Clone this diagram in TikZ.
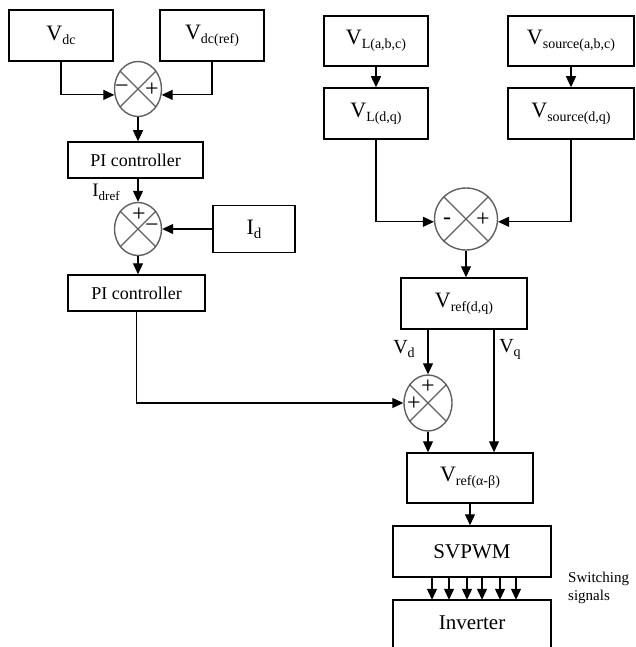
\documentclass[tikz,border=0pt]{standalone}
\usepackage{fontspec}
\setmainfont{Liberation Serif}
\usetikzlibrary{arrows.meta,shapes.geometric}
\newcommand\lsub[2][14]{\raisebox{-4pt}{\fontsize{#1}{#1}\selectfont #2}}
\newcommand\bigV{\fontsize{22}{22}\selectfont V}
\begin{document}
\begin{tikzpicture}[x=1pt,y=-1pt,
  box/.style={draw,line width=1.5pt,inner sep=2pt},
  boxline/.style={line width=1.5pt},
  sumj/.style={ellipse,draw=gray!75!black,line width=1.4pt,inner sep=0pt},
  sumx/.style={draw=gray!75!black,line width=1.1pt},
  sign/.style={inner sep=0pt,font=\fontsize{24}{24}\selectfont},
  conn/.style={line width=1.2pt,-{Triangle[length=11pt,width=10pt]}},
  lbl/.style={inner sep=0pt}]
\useasboundingbox (0,0) rectangle (635,647);

% left column
\node[box,minimum width=104pt,minimum height=51pt] (vdc) at (61,35.5) {\bigV\lsub{dc}};
\node[box,minimum width=104pt,minimum height=51pt] (vdcref) at (212,35.5) {\bigV\lsub{dc(ref)}};
\node[sumj,minimum width=47pt,minimum height=55pt] (s1) at (138,89) {};
\node[box,minimum width=135pt,minimum height=36pt,font=\fontsize{18}{18}\selectfont] (pi1) at (135.5,160) {PI controller};
\node[sumj,minimum width=47pt,minimum height=53pt] (s2) at (138,229) {};
\node[box,minimum width=82pt,minimum height=47pt] (id) at (254,229) {\fontsize{22}{22}\selectfont I\lsub[15]{d}};
\node[box,minimum width=137pt,minimum height=36pt,font=\fontsize{18}{18}\selectfont] (pi2) at (136.5,293) {PI controller};

% right column
\node[box,minimum width=104pt,minimum height=50pt] (vla) at (376,41) {\bigV\lsub{L(a,b,c)}};
\node[box,minimum width=104pt,minimum height=51pt] (vlb) at (376,113.5) {\bigV\lsub{L(d,q)}};
\node[box,minimum width=126pt,minimum height=50pt] (vsa) at (571,41) {\bigV\lsub{source(a,b,c)}};
\node[box,minimum width=126pt,minimum height=51pt] (vsb) at (571,113.5) {\bigV\lsub{source(d,q)}};
\node[sumj,minimum width=63pt,minimum height=62pt] (s4) at (466,219) {};
\node[box,minimum width=126pt,minimum height=51pt] (vref) at (464,303.5) {\bigV\lsub{ref(d,q)}};
\node[sumj,minimum width=48pt,minimum height=56pt] (s3) at (428,403) {};
\node[box,minimum width=126pt,minimum height=50pt] (vab) at (470,478) {\bigV\lsub{ref(α-β)}};
\node[box,minimum width=158pt,minimum height=51pt,font=\fontsize{21}{21}\selectfont] (svpwm) at (472,551.5) {SVPWM};
\node[minimum width=158pt,minimum height=46pt,inner sep=0pt,font=\fontsize{21}{21}\selectfont] (inv) at (472,623) {Inverter};
\draw[boxline] ([yshift=-8pt]inv.south west) |- (inv.north east) -- ([yshift=-8pt]inv.south east);

% sum junction crosses
\foreach \s in {s1,s2,s3,s4}
  \draw[sumx] (\s.45) -- (\s.225) (\s.135) -- (\s.315);

% signs
\node[sign] at ([shift={(-16,0)}]s1.center) {−};
\node[sign] at ([shift={(14,1)}]s1.center) {+};
\node[sign] at ([shift={(1,-14)}]s2.center) {+};
\node[sign] at ([shift={(14,-1)}]s2.center) {−};
\node[sign] at ([shift={(-19,2)}]s4.center) {-};
\node[sign] at ([shift={(17,1)}]s4.center) {+};
\node[sign] at ([shift={(0,-16)}]s3.center) {+};
\node[sign] at ([shift={(-14,1)}]s3.center) {+};

% labels
\node[lbl,font=\fontsize{19}{19}\selectfont] (lidref) at (106,192) {I\lsub[13]{dref}};
\node[lbl,font=\fontsize{20}{20}\selectfont] (lvd) at (404,349) {V\lsub[14]{d}};
\node[lbl,font=\fontsize{20}{20}\selectfont] (lvq) at (510,349) {V\lsub[14]{q}};
\node[lbl,anchor=north west,align=left,font=\fontsize{15}{18}\selectfont] (lsw) at (568,572) {Switching\\signals};

% connectors
\draw[conn] (vdc.south) |- (s1.194);
\draw[conn] (vdcref.south) |- (s1.346);
\draw[conn] (s1.south) -- (s1.south |- pi1.north);
\draw[conn] (s1.south |- pi1.south) -- (s2.north);
\draw[conn] (id.west) -- (s2.east);
\draw[conn] (s2.south) -- (s2.south |- pi2.north);
\draw[conn] (pi2.south) |- (s3.west);

\draw[conn] (vla.south) -- (vlb.north);
\draw[conn] (vsa.south) -- (vsb.north);
\draw[conn] (vlb.south) |- (s4.185);
\draw[conn] (vsb.south) |- (s4.355);
\draw[conn] (s4.south) -- (s4.south |- vref.north);
\draw[conn] (428,0 |- vref.south) -- (s3.north);
\draw[conn] (494,0 |- vref.south) -- (494,0 |- vab.north);
\draw[conn] (s3.south) -- (s3.south |- vab.north);
\draw[conn] (vab.south) -- (vab.south |- svpwm.north);
\foreach \x in {432,449,467,482,500,516}
  \draw[conn] (\x,0 |- svpwm.south) -- (\x,0 |- inv.north);
\end{tikzpicture}
\end{document}
